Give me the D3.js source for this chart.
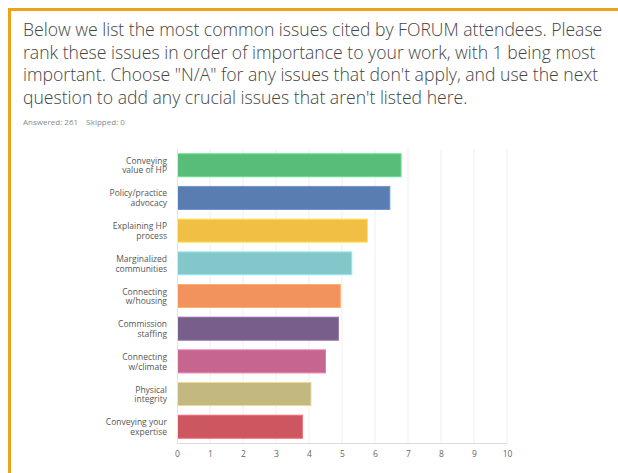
<!DOCTYPE html>
<html>
<head>
<meta charset="utf-8">
<script src="https://cdn.jsdelivr.net/npm/d3@7"></script>
<style>
  body { margin: 0; background: #fff; }
  svg { display: block; }
</style>
</head>
<body>
<div id="chart"></div>
<script>
// svg container
var svgWidth = 618;
var svgHeight = 473;

// data
var categories = [
  ["Conveying", "value of HP"],
  ["Policy/practice", "advocacy"],
  ["Explaining HP", "process"],
  ["Marginalized", "communities"],
  ["Connecting", "w/housing"],
  ["Commission", "staffing"],
  ["Connecting", "w/climate"],
  ["Physical", "integrity"],
  ["Conveying your", "expertise"]
];
var scores = [6.79, 6.45, 5.77, 5.30, 4.95, 4.89, 4.50, 4.06, 3.80];
var barColors = ["#57bd78", "#5a7db1", "#f1bf43", "#84c7cb", "#f2935e",
                 "#775e8b", "#c6668f", "#c3b880", "#cd5761"];
var xTicks = [0, 1, 2, 3, 4, 5, 6, 7, 8, 9, 10];

var titleLines = [
  "Below we list the most common issues cited by FORUM attendees. Please",
  "rank these issues in order of importance to your work, with 1 being most",
  "important. Choose \"N/A\" for any issues that don't apply, and use the next",
  "question to add any crucial issues that aren't listed here."
];

// chart area
var margin = { top: 149, right: 111, bottom: 30, left: 177 };
var width = svgWidth - margin.left - margin.right;
var height = svgHeight - margin.top - margin.bottom;

var svg = d3.select("#chart")
  .append("svg")
  .attr("width", svgWidth)
  .attr("height", svgHeight);

// orange frame (top + left)
svg.append("path")
  .attr("d", "M9.5," + svgHeight + " V9.5 H" + svgWidth)
  .attr("fill", "none")
  .attr("stroke", "#eda21a")
  .attr("stroke-width", 3);

// question title
svg.append("g")
  .selectAll("text")
  .data(titleLines)
  .enter()
  .append("text")
  .attr("x", 23)
  .attr("y", (d, i) => 36 + i * 22.5)
  .attr("font-family", "Open Sans, sans-serif")
  .attr("font-size", 17.6)
  .attr("font-weight", 300)
  .attr("fill", "#444")
  .text(d => d);

svg.append("text")
  .attr("x", 23)
  .attr("y", 125)
  .attr("font-family", "Open Sans, sans-serif")
  .attr("font-size", 8)
  .attr("fill", "#8a8a8a")
  .attr("xml:space", "preserve")
  .text("Answered: 261    Skipped: 0");

var chartGroup = svg.append("g")
  .attr("transform", `translate(${margin.left}, ${margin.top})`);

var xLinearScale = d3.scaleLinear()
  .domain([0, 10])
  .range([0, width]);

var yBandScale = d3.scaleBand()
  .domain(d3.range(categories.length))
  .range([0, height])
  .paddingInner(0.265)
  .paddingOuter(0.13);

// gridlines
chartGroup.append("g")
  .selectAll("line")
  .data(xTicks.slice(1))
  .enter()
  .append("line")
  .attr("x1", d => xLinearScale(d))
  .attr("x2", d => xLinearScale(d))
  .attr("y1", 0)
  .attr("y2", height)
  .attr("stroke", "#efefef")
  .attr("stroke-width", 1);

// bars
chartGroup.append("g")
  .selectAll("rect")
  .data(scores)
  .enter()
  .append("rect")
  .attr("x", 0.5)
  .attr("y", (d, i) => yBandScale(i) + 0.5)
  .attr("width", d => xLinearScale(d) - 0.5)
  .attr("height", yBandScale.bandwidth() - 1)
  .attr("fill", (d, i) => barColors[i])
  .attr("stroke", (d, i) => d3.color(barColors[i]).brighter(0.5))
  .attr("stroke-width", 1);

// left and bottom axis lines
chartGroup.append("line")
  .attr("x1", 0.5).attr("x2", 0.5)
  .attr("y1", 0).attr("y2", height)
  .attr("stroke", "#e3e3e3");
chartGroup.append("line")
  .attr("x1", 0).attr("x2", width)
  .attr("y1", height + 0.5).attr("y2", height + 0.5)
  .attr("stroke", "#dcdcdc");

// x tick labels
var bottomAxis = d3.axisBottom(xLinearScale)
  .tickValues(xTicks)
  .tickSize(0)
  .tickPadding(8);
var xAxis = chartGroup.append("g")
  .attr("transform", `translate(0, ${height})`)
  .call(bottomAxis);
xAxis.select(".domain").remove();
xAxis.selectAll("text")
  .attr("font-family", "Open Sans, sans-serif")
  .attr("font-size", 8.5)
  .attr("fill", "#666");

// category labels
var labels = chartGroup.append("g")
  .selectAll("text")
  .data(categories)
  .enter()
  .append("text")
  .attr("text-anchor", "end")
  .attr("font-family", "Open Sans, sans-serif")
  .attr("font-size", 8.5)
  .attr("fill", "#555");
labels.selectAll("tspan")
  .data((d, i) => d.map(t => ({ t: t, i: i })))
  .enter()
  .append("tspan")
  .attr("x", -10)
  .attr("y", (d, j) => yBandScale(d.i) + yBandScale.bandwidth() / 2 - 1.5 + j * 9.7)
  .text(d => d.t);
</script>
</body>
</html>
